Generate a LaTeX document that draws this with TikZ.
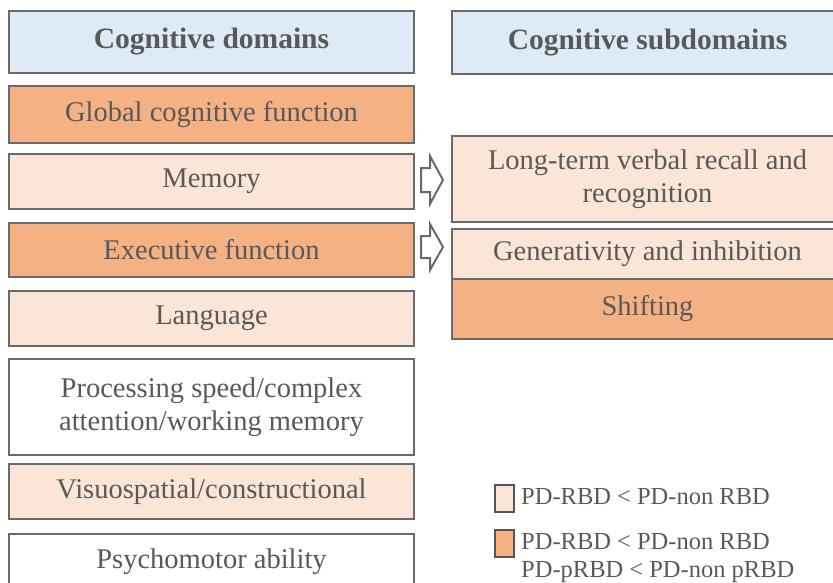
\documentclass[tikz,border=0pt]{standalone}
\usepackage{fontspec}
\setmainfont{Liberation Serif}
\definecolor{txt}{HTML}{595959}
\definecolor{bord}{HTML}{6A6A6A}
\definecolor{hdr}{HTML}{DEEBF7}
\definecolor{dark}{HTML}{F4B183}
\definecolor{lite}{HTML}{FBE5D6}
\tikzset{
  box/.style={draw=bord, line width=2pt, rectangle, inner sep=0pt, text=txt,
    align=center, font=\fontsize{28.5}{33}\selectfont, anchor=north west},
  hdrbox/.style={box, fill=hdr, font=\fontsize{29.5}{33}\selectfont\bfseries},
  darkbox/.style={box, fill=dark},
  litebox/.style={box, fill=lite},
  whitebox/.style={box, fill=white},
  blockarrow/.style={draw=bord, line width=2pt, fill=white, line join=miter},
  legsq/.style={draw=bord!80!black, line width=2.2pt, rectangle, inner sep=0pt, minimum width=19pt, minimum height=27pt, anchor=north west},
  legtxt/.style={text=txt, font=\fontsize{24.5}{28}\selectfont, inner sep=0pt, align=left}
}
\begin{document}
\begin{tikzpicture}[x=1pt,y=-1pt]
\useasboundingbox (0,0) rectangle (833,582);
\clip (0,0) rectangle (833,582);
% left column
\node[hdrbox, minimum width=405pt, minimum height=62pt] (cd) at (8,10) {Cognitive domains};
\node[darkbox, minimum width=405pt, minimum height=57pt] (gcf) at (8,85) {Global cognitive function};
\node[litebox, minimum width=405pt, minimum height=55pt] (mem) at (8,153) {Memory};
\node[darkbox, minimum width=405pt, minimum height=54pt] (exe) at (8,222) {Executive function};
\node[litebox, minimum width=405pt, minimum height=55pt] (lan) at (8,290) {Language};
\node[whitebox, minimum width=405pt, minimum height=96pt] (psp) at (8,358) {Processing speed/complex\\attention/working memory};
\node[litebox, minimum width=405pt, minimum height=55pt] (vis) at (8,463) {Visuospatial/constructional};
\node[whitebox, minimum width=405pt, minimum height=55pt] (psy) at (8,533) {Psychomotor ability};
% right column
\node[hdrbox, minimum width=391pt, minimum height=63pt] (csd) at (451,10) {Cognitive subdomains};
\node[litebox, minimum width=391pt, minimum height=86pt] (ltv) at (451,135) {Long-term verbal recall and\\recognition};
\node[litebox, minimum width=391pt, minimum height=50pt] (gen) at (451,228) {Generativity and inhibition};
\node[darkbox, minimum width=391pt, minimum height=60pt] (shi) at (451,278) {Shifting};
% block arrows
\coordinate (a1) at (421,180);
\coordinate (a2) at (421,247);
\draw[blockarrow] (a1) ++(0,-12) -- ++(9,0) -- ++(0,-12) -- ++(13,24) -- ++(-13,24) -- ++(0,-12) -- ++(-9,0) -- cycle;
\draw[blockarrow] (a2) ++(0,-11) -- ++(9,0) -- ++(0,-12) -- ++(13,23) -- ++(-13,23) -- ++(0,-12) -- ++(-9,0) -- cycle;
% legend
\node[legsq, fill=lite] (l1) at (494,484) {};
\node[legsq, fill=dark] (l2) at (494,529) {};
\node[legtxt, anchor=west] (t1) at (521,497) {PD-RBD < PD-non RBD};
\node[legtxt, anchor=north west] (t2) at (521,533) {PD-RBD < PD-non RBD\\PD-pRBD < PD-non pRBD};
\end{tikzpicture}
\end{document}
